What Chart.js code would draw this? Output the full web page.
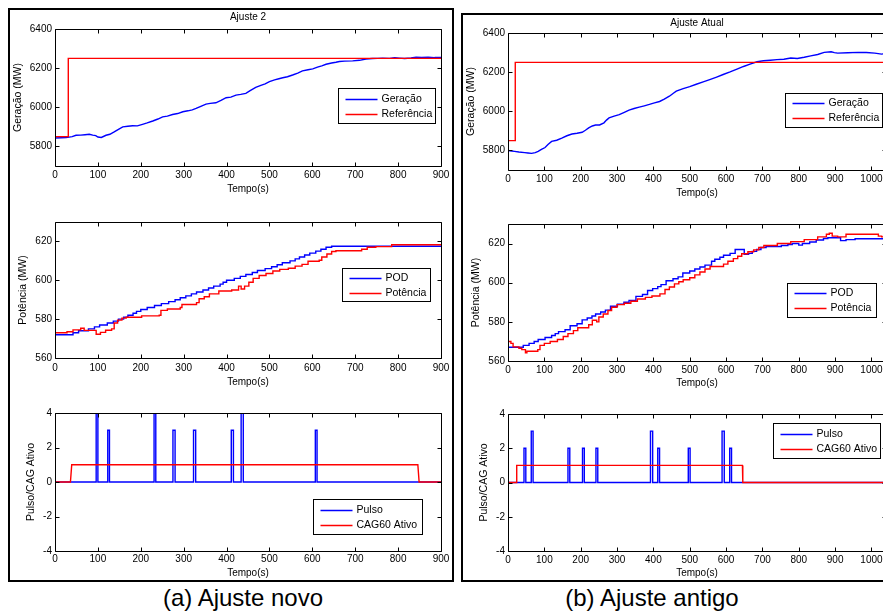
<!DOCTYPE html>
<html>
<head>
<meta charset="utf-8">
<script src="https://cdn.jsdelivr.net/npm/chart.js@4.4.0/dist/chart.umd.min.js"></script>
<style>
  html, body { margin: 0; padding: 0; background: #fff; }
  #fig { position: relative; width: 883px; height: 612px; overflow: hidden; }
  canvas { position: absolute; }
  .panel { position: absolute; border: 2px solid #000; box-sizing: border-box; }
  .cap { position: absolute; font: 24px 'Liberation Sans', Arial, sans-serif; color: #000;
         text-align: center; line-height: 24px; white-space: nowrap; }
</style>
</head>
<body>
<div id="fig">
  <div class="panel" style="left:8px;top:8px;width:446px;height:574px"></div>
  <div class="panel" style="left:461px;top:13px;width:500px;height:569px"></div>
  <canvas id="lt"></canvas>
  <canvas id="lm"></canvas>
  <canvas id="lb"></canvas>
  <canvas id="rt"></canvas>
  <canvas id="rm"></canvas>
  <canvas id="rb"></canvas>
  <div class="cap" style="left:143px;top:586px;width:200px">(a) Ajuste novo</div>
  <div class="cap" style="left:552px;top:586px;width:200px">(b) Ajuste antigo</div>
</div>
<script>
// ---- tick labels
const ticksNovoX = [0, 100, 200, 300, 400, 500, 600, 700, 800, 900];
const ticksAntigoX = [0, 100, 200, 300, 400, 500, 600, 700, 800, 900, 1000];
const ticksGeracao = [5800, 6000, 6200, 6400];
const ticksPotencia = [560, 580, 600, 620];
const ticksPulso = [-4, -2, 0, 2, 4];

// ---- (a) ajuste novo: geração / referência
const genNovoT = [
  0, 15, 26, 40, 49, 60, 70, 80, 88, 95,
  100, 108, 119, 128, 138, 148, 158, 170, 181, 192,
  204, 215, 228, 240, 251, 262, 274, 286, 298, 310,
  320, 329, 340, 352, 362, 375, 387, 399, 410, 422,
  433, 445, 455, 468, 480, 490, 500, 512, 522, 531,
  542, 554, 566, 577, 590, 601, 612, 622, 632, 645,
  655, 663, 675, 694, 710, 725, 740, 752, 764, 780,
  792, 803, 815, 830, 842, 855, 870, 885, 900];
const genNovoV = [
  5843, 5844, 5845, 5850, 5857, 5858, 5860, 5862, 5858, 5855,
  5848, 5846, 5857, 5862, 5874, 5887, 5900, 5903, 5906, 5905,
  5913, 5920, 5930, 5940, 5951, 5955, 5963, 5968, 5977, 5982,
  5987, 5994, 6005, 6016, 6020, 6023, 6035, 6049, 6052, 6062,
  6066, 6071, 6085, 6102, 6112, 6120, 6131, 6140, 6146, 6151,
  6156, 6165, 6175, 6186, 6192, 6196, 6205, 6212, 6220, 6226,
  6230, 6234, 6236, 6237, 6240, 6247, 6249, 6250, 6251, 6250,
  6253, 6251, 6249, 6252, 6256, 6255, 6256, 6254, 6254];
const refNovoT = [0, 31, 900];
const refNovoV = [5850, 6250, 6250];

// ---- (a) POD / potência
const podNovoT = [
  0, 42, 55, 78, 92, 104, 122, 136, 148, 160,
  170, 182, 190, 200, 215, 232, 248, 265, 280, 292,
  305, 318, 330, 345, 358, 370, 385, 392, 400, 418,
  432, 445, 460, 472, 490, 505, 518, 530, 548, 560,
  570, 582, 594, 608, 620, 632, 645, 900];
const podNovoV = [
  572, 573, 574, 575, 576, 577, 578, 579, 580, 581,
  582, 583, 584, 585, 586, 587, 588, 589, 590, 591,
  592, 593, 594, 595, 596, 597, 598, 599, 600, 601,
  602, 603, 604, 605, 606, 607, 608, 609, 610, 611,
  612, 613, 614, 615, 616, 617, 617.5, 617.5];
const potNovoT = [
  0, 28, 42, 60, 68, 96, 106, 118, 132, 138,
  146, 156, 166, 202, 243, 247, 262, 292, 296, 330,
  336, 348, 360, 382, 412, 428, 434, 442, 452, 462,
  476, 492, 508, 524, 544, 560, 576, 590, 616, 622,
  634, 645, 655, 715, 728, 748, 785, 900];
const potNovoV = [
  573, 573.5, 574.5, 575.3, 574.2, 572.2, 573.2, 574.3, 575, 578,
  579.5, 580.5, 581, 581.7, 582, 584.5, 585.2, 586, 587.5, 588.5,
  590.5, 591.5, 593, 594.5, 595, 597, 595.5, 597, 599, 601,
  602.5, 603.5, 604.8, 605.6, 606.2, 607.3, 608.2, 609.8, 610.3, 612,
  613.5, 614.8, 615.2, 616, 617, 617.3, 618.3, 618.3];

// ---- (a) pulsos / CAG60
const pulsoNovoIni = [96, 123, 231, 275, 323, 411, 434, 607];
const pulsoNovoFim = [100, 127, 235, 280, 328, 416, 439, 611];
const pulsoNovoAlt = [4, 3, 4, 3, 3, 3, 4, 3];
const cagNovoT = [0, 36, 39, 846, 849, 900];
const cagNovoV = [0, 0, 1, 1, 0, 0];

// ---- (b) ajuste antigo: geração / referência
const genAntT = [
  0, 10, 18, 30, 46, 55, 65, 75, 83, 92,
  102, 110, 120, 134, 148, 162, 176, 190, 204, 213,
  222, 232, 241, 252, 264, 271, 278, 292, 306, 320,
  333, 347, 361, 375, 389, 403, 417, 430, 444, 455,
  463, 482, 500, 518, 537, 555, 574, 592, 611, 630,
  648, 666, 685, 703, 722, 740, 759, 778, 796, 815,
  833, 852, 870, 889, 898, 907, 935, 963, 986, 1009,
  1028, 1040];
const genAntV = [
  5800, 5797, 5795, 5792, 5789, 5787, 5785, 5789, 5795, 5805,
  5815, 5830, 5846, 5852, 5863, 5875, 5884, 5888, 5893, 5903,
  5915, 5925, 5930, 5930, 5941, 5955, 5966, 5975, 5983, 5995,
  6006, 6014, 6021, 6028, 6035, 6043, 6050, 6062, 6077, 6092,
  6103, 6116, 6126, 6138, 6150, 6162, 6175, 6188, 6201, 6215,
  6229, 6241, 6253, 6258, 6261, 6264, 6266, 6272, 6270, 6276,
  6283, 6290, 6301, 6304, 6300, 6297, 6299, 6301, 6300, 6297,
  6292, 6296];
const refAntT = [0, 20, 1040];
const refAntV = [5850, 6250, 6250];

// ---- (b) POD / potência
const podAntT = [
  0, 42, 58, 72, 83, 102, 120, 130, 139, 157,
  171, 190, 204, 218, 231, 241, 255, 268, 282, 301,
  319, 333, 352, 370, 384, 398, 412, 421, 435, 454,
  468, 481, 500, 514, 528, 542, 560, 569, 583, 593,
  611, 625, 650, 662, 672, 684, 696, 710, 752, 770,
  782, 800, 810, 830, 848, 868, 880, 915, 930, 955,
  1040];
const podAntV = [
  567, 568, 569, 570, 571, 572, 573, 574, 575, 576,
  578, 579, 581, 582, 583, 584, 585, 586, 588, 589,
  590, 591, 593, 594, 596, 597, 598, 599, 601, 602,
  603, 605, 606, 607, 608, 609, 611, 612, 613, 614,
  615, 617, 614.5, 615, 616, 617, 618, 618.5, 619, 619.5,
  620, 619.2, 620, 620.8, 621.8, 622.6, 623, 621.5, 622, 622.5,
  622.5];
const potAntT = [
  0, 8, 14, 30, 38, 48, 52, 82, 88, 100,
  116, 136, 152, 165, 180, 192, 222, 232, 244, 250,
  262, 275, 285, 300, 320, 338, 356, 378, 396, 418,
  432, 444, 458, 470, 482, 500, 514, 528, 542, 556,
  593, 605, 620, 632, 643, 660, 676, 690, 704, 741,
  778, 815, 852, 876, 884, 892, 907, 930, 1019, 1028,
  1040];
const potAntV = [
  570, 569, 567.2, 566.5, 565.8, 564.2, 565, 565.8, 568, 569,
  570, 571, 572.5, 574, 575.5, 577, 578.5, 580.8, 580, 582.5,
  584, 585.8, 587.5, 588.8, 589.5, 590.5, 591.7, 592.5, 593.2, 594.3,
  596.5, 597.8, 599.4, 600.5, 601.5, 602.5, 604, 605.5, 607, 608.3,
  609.5, 611, 612.3, 613.5, 614.8, 615.8, 616.8, 618, 619, 620,
  621, 622, 623.4, 624.8, 625.3, 623.8, 623.4, 624.8, 623.8, 623.4,
  623.4];

// ---- (b) pulsos / CAG60
const pulsoAntIni = [44, 64, 165, 205, 242, 392, 412, 496, 589, 610];
const pulsoAntFim = [49, 69, 170, 210, 247, 398, 417, 501, 595, 615];
const pulsoAntAlt = [2, 3, 2, 2, 2, 3, 2, 2, 3, 2];
const cagAntT = [0, 23, 24, 645, 646, 1040];
const cagAntV = [0, 0, 1, 1, 0, 0];

const BLUE = '#0000ff', RED = '#ff0000';
const FONT = "'Liberation Sans', Arial, Helvetica, sans-serif";
Chart.defaults.font.family = FONT;
Chart.defaults.font.size = 10;
Chart.defaults.color = '#000';

function pts(xs, ys) { return xs.map((x, i) => ({ x, y: ys[i] })); }

function pulses(ini, fim, alt, tEnd) {
  const out = [{ x: 0, y: 0 }];
  ini.forEach((s, i) => {
    out.push({ x: s, y: 0 }, { x: s, y: alt[i] }, { x: fim[i], y: alt[i] }, { x: fim[i], y: 0 });
  });
  out.push({ x: tEnd, y: 0 });
  return out;
}

// box + inward ticks on all four sides, like the original plots
const matlabAxes = {
  id: 'matlabAxes',
  afterDatasetsDraw(chart) {
    const { ctx, chartArea: a, scales: { x, y } } = chart;
    const L = a.left + .5, R = a.right + .5, T = a.top + .5, B = a.bottom + .5;
    ctx.save();
    ctx.strokeStyle = '#000';
    ctx.lineWidth = 1;
    ctx.beginPath();
    ctx.rect(L, T, R - L, B - T);
    x.ticks.forEach(t => {
      const p = Math.round(x.getPixelForValue(t.value)) + .5;
      ctx.moveTo(p, B); ctx.lineTo(p, B - 4);
      ctx.moveTo(p, T); ctx.lineTo(p, T + 4);
    });
    y.ticks.forEach(t => {
      const p = Math.round(y.getPixelForValue(t.value)) + .5;
      ctx.moveTo(L, p); ctx.lineTo(L + 4, p);
      ctx.moveTo(R, p); ctx.lineTo(R - 4, p);
    });
    ctx.stroke();
    ctx.restore();
  }
};

// boxed legend inside the plot area
const boxLegend = {
  id: 'boxLegend',
  afterDraw(chart, args, o) {
    if (!o || o.w === undefined) return;
    const { ctx, chartArea: a } = chart;
    const x0 = Math.round(a.left + o.x) + .5, y0 = Math.round(a.top + o.y) + .5;
    ctx.save();
    ctx.fillStyle = '#fff';
    ctx.fillRect(x0, y0, o.w, o.h);
    ctx.strokeStyle = '#000';
    ctx.lineWidth = 1;
    ctx.strokeRect(x0, y0, o.w, o.h);
    ctx.font = '10.5px ' + FONT;
    ctx.textBaseline = 'middle';
    chart.data.datasets.forEach((ds, i) => {
      const yy = Math.round(y0 + o.h / 2 + (i - 0.5) * 15) + .5;
      ctx.strokeStyle = ds.borderColor;
      ctx.lineWidth = 1.4;
      ctx.beginPath();
      ctx.moveTo(x0 + 7, yy);
      ctx.lineTo(x0 + 39, yy);
      ctx.stroke();
      ctx.fillStyle = '#000';
      ctx.fillText(ds.label, x0 + 43, yy);
    });
    ctx.restore();
  }
};

function makePlot(c) {
  const cv = document.getElementById(c.id);
  cv.width = c.w;
  cv.height = c.h;
  cv.style.left = c.left + 'px';
  cv.style.top = c.top + 'px';

  new Chart(cv, {
    type: 'line',
    data: { datasets: c.datasets },
    options: {
      responsive: false,
      animation: false,
      devicePixelRatio: 1,
      layout: { padding: { top: c.padTop, right: c.padRight, bottom: 2, left: 0 } },
      elements: { point: { radius: 0 }, line: { borderWidth: 1.4, tension: 0 } },
      plugins: {
        legend: { display: false },
        tooltip: { enabled: false },
        title: c.title
          ? { display: true, text: c.title, fullSize: false, color: '#000',
              font: { size: 10, weight: 'normal' }, padding: c.titlePad }
          : { display: false },
        boxLegend: c.legend
      },
      scales: {
        x: {
          type: 'linear', min: 0, max: c.xMax,
          grid: { display: false, drawTicks: false }, border: { display: false },
          ticks: { color: '#000', padding: c.xTickPad, maxRotation: 0, autoSkip: false,
                   callback: v => String(v) },
          afterBuildTicks: s => { s.ticks = c.xTicks.map(v => ({ value: v })); },
          afterFit: s => { s.height = c.xh; },
          title: { display: true, text: 'Tempo(s)', color: '#000', padding: 0 }
        },
        y: {
          type: 'linear', min: c.yMin, max: c.yMax,
          grid: { display: false, drawTicks: false }, border: { display: false },
          ticks: { color: '#000', padding: 3, autoSkip: false, callback: v => String(v) },
          afterBuildTicks: s => { s.ticks = c.yTicks.map(v => ({ value: v })); },
          afterFit: s => { s.width = 45; },
          title: { display: true, text: c.yTitle, color: '#000', font: { size: 10.5 },
                   padding: { top: c.yTitlePad, bottom: 0 } }
        }
      }
    },
    plugins: [matlabAxes, boxLegend]
  });
}

const line = (label, color, data, stepped, order) =>
  ({ label, data, borderColor: color, borderWidth: 1.4, stepped: stepped || false, order, pointRadius: 0 });

// ---- (a) left panel
makePlot({
  id: 'lt', left: 10, top: 10, w: 445, h: 187, padTop: 0, padRight: 14,
  title: 'Ajuste 2', titlePad: { top: 1, bottom: 6 },
  xMax: 900, xTicks: ticksNovoX, xTickPad: 3, xh: 29,
  yMin: 5700, yMax: 6400, yTicks: ticksGeracao, yTitle: 'Geração (MW)', yTitlePad: 2,
  legend: { x: 283, y: 59, w: 97, h: 35 },
  datasets: [
    line('Geração', BLUE, pts(genNovoT, genNovoV), false, 1),
    line('Referência', RED, pts(refNovoT, refNovoV), 'before', 0)
  ]
});
makePlot({
  id: 'lm', left: 10, top: 213, w: 445, h: 177, padTop: 8, padRight: 14,
  xMax: 900, xTicks: ticksNovoX, xTickPad: 4, xh: 30,
  yMin: 560, yMax: 630, yTicks: ticksPotencia, yTitle: 'Potência (MW)', yTitlePad: 7,
  legend: { x: 287, y: 46, w: 88, h: 33 },
  datasets: [
    line('POD', BLUE, pts(podNovoT, podNovoV), 'before', 1),
    line('Potência', RED, pts(potNovoT, potNovoV), 'before', 0)
  ]
});
makePlot({
  id: 'lb', left: 10, top: 404, w: 445, h: 177, padTop: 8, padRight: 14,
  xMax: 900, xTicks: ticksNovoX, xTickPad: 2, xh: 28,
  yMin: -4, yMax: 4, yTicks: ticksPulso, yTitle: 'Pulso/CAG Ativo', yTitlePad: 15,
  legend: { x: 258, y: 86, w: 109, h: 35 },
  datasets: [
    line('Pulso', BLUE, pulses(pulsoNovoIni, pulsoNovoFim, pulsoNovoAlt, 900), false, 1),
    line('CAG60 Ativo', RED, pts(cagNovoT, cagNovoV), false, 0)
  ]
});

// ---- (b) right panel
makePlot({
  id: 'rt', left: 463, top: 14, w: 437, h: 187, padTop: 0, padRight: 14,
  title: 'Ajuste Atual', titlePad: { top: 3, bottom: 4 },
  xMax: 1040, xTicks: ticksAntigoX, xTickPad: 3, xh: 29,
  yMin: 5700, yMax: 6400, yTicks: ticksGeracao, yTitle: 'Geração (MW)', yTitlePad: 1.5,
  legend: { x: 277, y: 60, w: 97, h: 34 },
  datasets: [
    line('Geração', BLUE, pts(genAntT, genAntV), false, 1),
    line('Referência', RED, pts(refAntT, refAntV), 'before', 0)
  ]
});
makePlot({
  id: 'rm', left: 463, top: 215, w: 437, h: 176, padTop: 8, padRight: 14,
  xMax: 1040, xTicks: ticksAntigoX, xTickPad: 3, xh: 28,
  yMin: 560, yMax: 630, yTicks: ticksPotencia, yTitle: 'Potência (MW)', yTitlePad: 7,
  legend: { x: 279, y: 59, w: 89, h: 34 },
  datasets: [
    line('POD', BLUE, pts(podAntT, podAntV), 'before', 1),
    line('Potência', RED, pts(potAntT, potAntV), 'before', 0)
  ]
});
makePlot({
  id: 'rb', left: 463, top: 405, w: 437, h: 176, padTop: 8, padRight: 14,
  xMax: 1040, xTicks: ticksAntigoX, xTickPad: 3, xh: 28,
  yMin: -4, yMax: 4, yTicks: ticksPulso, yTitle: 'Pulso/CAG Ativo', yTitlePad: 15,
  legend: { x: 265, y: 9, w: 107, h: 35 },
  datasets: [
    line('Pulso', BLUE, pulses(pulsoAntIni, pulsoAntFim, pulsoAntAlt, 1040), false, 1),
    line('CAG60 Ativo', RED, pts(cagAntT, cagAntV), false, 0)
  ]
});
</script>
</body>
</html>
